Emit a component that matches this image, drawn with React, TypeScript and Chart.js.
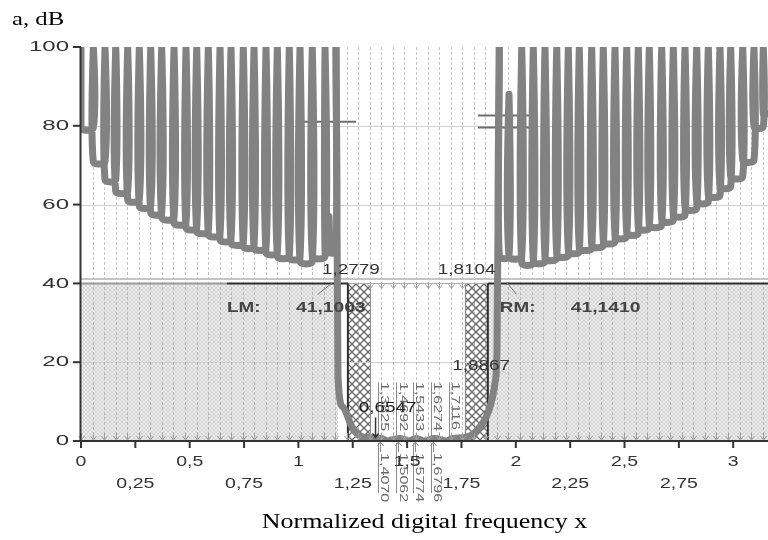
import React, { useEffect, useRef } from 'react';
import { Chart, registerables } from 'chart.js';
Chart.register(...registerables);

// ---------- data ----------
const X_MAX = 3.16;
const GRID_STEP = 0.05314;

const xTicks = [0, 0.25, 0.5, 0.75, 1, 1.25, 1.5, 1.75, 2, 2.25, 2.5, 2.75, 3];
const xTickLabels = ['0', '0,25', '0,5', '0,75', '1', '1,25', '1,5', '1,75', '2', '2,25', '2,5', '2,75', '3'];
const yTicks = [0, 20, 40, 60, 80, 100];

// attenuation poles (x) and lobe minima (dB) in the lower stopband
const leftPoles = [0.0566, 0.1104, 0.1596, 0.2148, 0.2682, 0.3206, 0.3712, 0.4278, 0.4830, 0.5322, 0.5856,
  0.6394, 0.6900, 0.7466, 0.7958, 0.8510, 0.9030, 0.9581, 1.0074, 1.0639, 1.1224, 1.1730];
const leftMinima = [79.5, 70.9, 66.3, 63.4, 61.2, 59.6, 57.9, 56.7, 55.4, 54.1, 53.2, 52.4, 51.1, 50.3, 49.4,
  49.0, 47.8, 46.9, 46.5, 45.6, 46.9, 48.0];
// upper stopband
const rightPoles = [1.9241, 2.0272, 2.0805, 2.1343, 2.1882, 2.2415, 2.2921, 2.3491, 2.4025, 2.4563, 2.5101,
  2.5635, 2.6141, 2.6711, 2.7245, 2.7783, 2.8321, 2.8855, 2.9393, 2.9885, 3.0437, 3.0957, 3.1384];
const rightMinima = [46.8, 45.2, 45.6, 46.4, 47.2, 48.1, 49.0, 49.7, 50.6, 51.9, 52.8, 54.1, 54.8, 56.1, 57.4,
  59.1, 60.8, 62.4, 64.6, 67.1, 71.3, 79.8];
const rightEdgeValue = 83;
// local spikes inside lobes
const spikeX = [1.1407, 1.9687];
const spikeY = [57, 88];
// transition + passband
const passX = [1.1822, 1.2052, 1.2466, 1.2925, 1.3825, 1.4070, 1.4692, 1.5062, 1.5433, 1.5774, 1.6274, 1.6796,
  1.7116, 1.7755, 1.8353, 1.8813, 1.9043, 1.9135];
const passY = [16, 8.6, 3.6, 1.0, 0.6547, 0, 0.6547, 0, 0.6547, 0, 0.6547, 0, 0.6547, 1.0, 3.6, 8.6, 14.7, 23];

// passband extremes (labels)
const passMaxX = [1.3825, 1.4692, 1.5433, 1.6274, 1.7116];
const passMaxLabels = ['1,3825', '1,4692', '1,5433', '1,6274', '1,7116'];
const passZeroLabels = ['1,4070', '1,5062', '1,5774', '1,6796'];

// tolerance scheme
const minAttenuation = 40;
const stopbandLeft = [0, 1.1822];
const stopbandRight = [1.8713, X_MAX];
const hatchLeft = [1.2276, 1.3287];
const hatchRight = [1.7655, 1.8713];
const passband = [1.3287, 1.7655];
const lmBox = [0.671, 1.2276];
const rmBox = [1.8713, X_MAX];
const lmValue = 41.1003;
const rmValue = 41.1410;
const stopEdges = [1.2779, 1.8104];
const markLineX0 = [1.0166, 1.8261, 1.8261];
const markLineX1 = [1.2649, 2.0745, 2.0883];
const markLineY = [81.0, 82.6, 79.6];

// ---------- build the curve ----------
const TOP = 100;
function push(pts: any[], x: number, y: number) {
  const l = pts[pts.length - 1];
  if (l && l.x === x && l.y === y) return;
  pts.push({ x, y });
}
function pushLobe(pts: any[], L: number, R: number, m: number) {
  push(pts, L, TOP);
  push(pts, L, m);
  spikeX.forEach((s, i) => {
    if (s > L && s < R) { push(pts, s, m); push(pts, s, spikeY[i]); push(pts, s + 0.0001, m); }
  });
  push(pts, R, m);
  push(pts, R, TOP);
}
function buildLeft() {
  const pts: any[] = [];
  pushLobe(pts, 0, leftPoles[0], leftMinima[0]);
  for (let i = 0; i < leftPoles.length - 1; i++) pushLobe(pts, leftPoles[i], leftPoles[i + 1], leftMinima[i + 1]);
  return pts;
}
function buildPass() {
  const pts: any[] = [{ x: leftPoles[leftPoles.length - 1], y: TOP }];
  passX.forEach((x, i) => pts.push({ x, y: passY[i] }));
  pts.push({ x: rightPoles[0], y: TOP });
  return pts;
}
function buildRight() {
  const pts: any[] = [];
  for (let i = 0; i < rightPoles.length - 1; i++) pushLobe(pts, rightPoles[i], rightPoles[i + 1], rightMinima[i]);
  const last = rightPoles[rightPoles.length - 1];
  push(pts, last, TOP); push(pts, last, rightEdgeValue); push(pts, X_MAX, rightEdgeValue);
  return pts;
}

// ---------- drawing helpers ----------
const SANS = "'Liberation Sans', Arial, sans-serif";
const SERIF = "'Liberation Serif', 'Times New Roman', serif";

function txt(ctx: CanvasRenderingContext2D, s: string, x: number, y: number, font: string, color: string,
  align: CanvasTextAlign, sx: number, baseline: CanvasTextBaseline = 'middle') {
  ctx.save();
  ctx.translate(x, y);
  ctx.scale(sx, 1);
  ctx.font = font;
  ctx.fillStyle = color;
  ctx.textAlign = align;
  ctx.textBaseline = baseline;
  ctx.fillText(s, 0, 0);
  ctx.restore();
}
function vtxt(ctx: CanvasRenderingContext2D, s: string, x: number, y: number, color: string) {
  ctx.save();
  ctx.translate(x, y);
  ctx.rotate(Math.PI / 2);
  ctx.scale(1.15, 0.75);
  ctx.font = `14px ${SANS}`;
  ctx.fillStyle = color;
  ctx.textAlign = 'left';
  ctx.textBaseline = 'middle';
  ctx.fillText(s, 0, 0);
  ctx.restore();
}
function line(ctx: CanvasRenderingContext2D, x0: number, y0: number, x1: number, y1: number) {
  ctx.beginPath();
  ctx.moveTo(x0, y0);
  ctx.lineTo(x1, y1);
  ctx.stroke();
}
function arrowDown(ctx: CanvasRenderingContext2D, x: number, tip: number, len: number, head: number) {
  ctx.beginPath();
  ctx.moveTo(x, tip - len);
  ctx.lineTo(x, tip);
  ctx.moveTo(x - head, tip - head - 1);
  ctx.lineTo(x, tip);
  ctx.lineTo(x + head, tip - head - 1);
  ctx.stroke();
}
function arrowUp(ctx: CanvasRenderingContext2D, x: number, tip: number, len: number, head: number) {
  ctx.beginPath();
  ctx.moveTo(x, tip + len);
  ctx.lineTo(x, tip);
  ctx.moveTo(x - head, tip + head + 1);
  ctx.lineTo(x, tip);
  ctx.lineTo(x + head, tip + head + 1);
  ctx.stroke();
}
function makeShade(ctx: CanvasRenderingContext2D) {
  const c = document.createElement('canvas');
  c.width = 4; c.height = 4;
  const g = c.getContext('2d')!;
  g.fillStyle = '#eeeeee';
  g.fillRect(0, 0, 4, 4);
  g.fillStyle = '#d2d2d2';
  [[0, 0], [1, 1], [2, 2], [3, 3], [3, 0], [2, 1], [1, 2], [0, 3]].forEach(([a, b]) => g.fillRect(a, b, 1, 1));
  return ctx.createPattern(c, 'repeat')!;
}
function makeHatch(ctx: CanvasRenderingContext2D) {
  const c = document.createElement('canvas');
  c.width = 8; c.height = 8;
  const g = c.getContext('2d')!;
  g.fillStyle = '#ffffff';
  g.fillRect(0, 0, 8, 8);
  g.strokeStyle = '#666666';
  g.lineWidth = 1.3;
  g.beginPath();
  g.moveTo(-1, -1); g.lineTo(9, 9);
  g.moveTo(9, -1); g.lineTo(-1, 9);
  g.stroke();
  return ctx.createPattern(c, 'repeat')!;
}

const decor = {
  id: 'decor',
  beforeDatasetsDraw(chart: any) {
    const { ctx, chartArea: ca, scales } = chart;
    const X = (v: number) => scales.x.getPixelForValue(v);
    const Y = (v: number) => scales.y.getPixelForValue(v);
    ctx.save();
    ctx.fillStyle = makeShade(ctx);
    [stopbandLeft, stopbandRight].forEach(([a, b]) =>
      ctx.fillRect(X(a), Y(minAttenuation), X(b) - X(a), Y(0) - Y(minAttenuation)));
    ctx.fillStyle = makeHatch(ctx);
    [hatchLeft, hatchRight].forEach(([a, b]) =>
      ctx.fillRect(X(a), Y(minAttenuation), X(b) - X(a), Y(0) - Y(minAttenuation)));
    ctx.strokeStyle = '#8a8a8a';
    ctx.lineWidth = 1;
    line(ctx, Math.round(X(passband[0])) + 0.5, Y(minAttenuation), Math.round(X(passband[0])) + 0.5, Y(0));
    line(ctx, Math.round(X(passband[1])) + 0.5, Y(minAttenuation), Math.round(X(passband[1])) + 0.5, Y(0));
    ctx.strokeStyle = '#cfcfcf';
    yTicks.forEach((v) => {
      if (v > 0 && v < 100) line(ctx, ca.left, Math.round(Y(v)) + 0.5, ca.right, Math.round(Y(v)) + 0.5);
    });
    ctx.setLineDash([3, 2]);
    ctx.strokeStyle = 'rgba(150,150,150,0.55)';
    for (let k = 1; k * GRID_STEP < X_MAX; k++) {
      const p = Math.round(X(k * GRID_STEP)) + 0.5;
      line(ctx, p, ca.top, p, ca.bottom);
    }
    ctx.setLineDash([]);
    ctx.strokeStyle = '#c4c4c4';
    ctx.lineWidth = 2;
    line(ctx, ca.left, Y(lmValue), X(passband[1]), Y(lmValue));
    line(ctx, X(passband[1]), Y(rmValue), ca.right, Y(rmValue));
    ctx.strokeStyle = '#9a9a9a';
    line(ctx, ca.left, Y(minAttenuation), X(lmBox[0]), Y(minAttenuation));
    ctx.strokeStyle = '#aaaaaa';
    ctx.lineWidth = 1;
    line(ctx, X(hatchLeft[0]), Math.round(Y(minAttenuation)) + 0.5, X(hatchRight[1]), Math.round(Y(minAttenuation)) + 0.5);
    ctx.strokeStyle = '#2e2e2e';
    ctx.lineWidth = 2;
    [lmBox, rmBox].forEach(([a, b]) => line(ctx, X(a), Y(minAttenuation), Math.min(X(b), ca.right), Y(minAttenuation)));
    line(ctx, X(lmBox[1]), Y(minAttenuation), X(lmBox[1]), Y(0));
    line(ctx, X(rmBox[0]), Y(minAttenuation), X(rmBox[0]), Y(0));
    ctx.strokeStyle = '#6e6e6e';
    ctx.lineWidth = 2;
    markLineY.forEach((v, i) => line(ctx, X(markLineX0[i]), Y(v), X(markLineX1[i]), Y(v)));
    ctx.restore();
  },
  afterDatasetsDraw(chart: any) {
    const { ctx, chartArea: ca, scales } = chart;
    const X = (v: number) => scales.x.getPixelForValue(v);
    const Y = (v: number) => scales.y.getPixelForValue(v);
    ctx.save();
    ctx.strokeStyle = '#a0a0a0';
    ctx.lineWidth = 1;
    for (let k = 0; k * GRID_STEP < X_MAX; k++) {
      const v = k * GRID_STEP;
      const p = Math.round(X(v)) + 0.5;
      arrowDown(ctx, p, Y(0) - 1, 7, 3);
      if (v >= passband[0] - 0.01 && v <= passband[1] + 0.01) arrowDown(ctx, p, Y(minAttenuation) + 5, 6, 3);
    }
    ctx.strokeStyle = '#8c8c8c';
    passMaxX.forEach((v, i) => {
      const p = Math.round(X(v)) - 3.5;
      line(ctx, p, Y(14.9), p, Y(0) - 2);
      vtxt(ctx, passMaxLabels[i], X(v) + 2, Y(15), '#6a6a6a');
      if (i < passZeroLabels.length) {
        line(ctx, p, Y(0) + 2, p, Y(0) + 52);
        arrowUp(ctx, p + 2, Y(0) + 1, 10, 3);
        vtxt(ctx, passZeroLabels[i], X(v) + 2, Y(0) + 12, '#6a6a6a');
      }
    });
    ctx.strokeStyle = '#333';
    ctx.lineWidth = 1.5;
    arrowDown(ctx, X(passMaxX[0]) - 6, Y(0.6547) - 1, 20, 3);
    ctx.strokeStyle = '#777';
    ctx.lineWidth = 1;
    line(ctx, X(stopEdges[0]) - 41, Y(minAttenuation) + 11, X(stopEdges[0]) - 26, Y(minAttenuation) - 1);
    line(ctx, X(stopEdges[1]) + 32, Y(minAttenuation) - 1, X(stopEdges[1]) + 42, Y(minAttenuation) + 11);

    const f = `14px ${SANS}`;
    const fb = `bold 14px ${SANS}`;
    txt(ctx, '1,2779', X(stopEdges[0]) - 8, Y(minAttenuation) - 13, f, '#333', 'center', 1.35);
    txt(ctx, '1,8104', X(stopEdges[1]) - 8, Y(minAttenuation) - 13, f, '#333', 'center', 1.35);
    txt(ctx, 'LM:', X(stopEdges[0]) - 115, Y(lmValue) + 29, fb, '#444', 'center', 1.35);
    txt(ctx, '41,1003', X(stopEdges[0]) - 28, Y(lmValue) + 29, fb, '#444', 'center', 1.38);
    txt(ctx, 'RM:', X(stopEdges[1]) + 43, Y(rmValue) + 29, fb, '#444', 'center', 1.35);
    txt(ctx, '41,1410', X(stopEdges[1]) + 131, Y(rmValue) + 29, fb, '#444', 'center', 1.38);
    txt(ctx, '1,8867', X(1.8867) - 10, Y(19), f, '#333', 'center', 1.35);
    txt(ctx, '0,6547', X(passMaxX[0]) + 6, Y(0.6547) - 30, f, '#222', 'center', 1.35);

    ctx.strokeStyle = '#333';
    ctx.lineWidth = 2;
    line(ctx, ca.left - 0.5, ca.top, ca.left - 0.5, ca.bottom + 1);
    line(ctx, ca.left - 1, ca.bottom, ca.right, ca.bottom);
    xTicks.forEach((v) => line(ctx, X(v), ca.bottom, X(v), ca.bottom + 7));
    yTicks.forEach((v) => line(ctx, ca.left - 8, Y(v), ca.left, Y(v)));

    const tf = `15px ${SANS}`;
    xTicks.forEach((v, i) => {
      const row = i % 2 === 0 ? ca.bottom + 21 : ca.bottom + 43;
      txt(ctx, xTickLabels[i], X(v), row, tf, '#333', 'center', 1.3);
    });
    yTicks.forEach((v) => txt(ctx, String(v), ca.left - 12, Y(v), tf, '#333', 'right', 1.6));

    txt(ctx, 'a, dB', 12, 25, `19px ${SERIF}`, '#000', 'left', 1.3, 'alphabetic');
    txt(ctx, 'Normalized digital frequency x', (ca.left + ca.right) / 2, 528, `20px ${SERIF}`, '#000', 'center', 1.3, 'alphabetic');
    ctx.restore();
  },
};

const curveStyle = {
  borderColor: 'rgb(130,130,130)',
  borderWidth: 7,
  borderJoinStyle: 'round',
  borderCapStyle: 'round',
  pointRadius: 0,
  fill: false,
};

export default function App() {
  const ref = useRef<HTMLCanvasElement>(null);
  useEffect(() => {
    document.body.style.margin = '0';
    const chart = new Chart(ref.current!, {
      type: 'line',
      data: {
        datasets: [
          { ...curveStyle, data: buildLeft(), tension: 0.3 },
          { ...curveStyle, data: buildPass(), cubicInterpolationMode: 'monotone' },
          { ...curveStyle, data: buildRight(), tension: 0.3 },
        ],
      },
      options: {
        animation: false,
        responsive: false,
        devicePixelRatio: 1,
        layout: { padding: { left: 81, top: 47, right: 0, bottom: 99 } },
        plugins: { legend: { display: false }, tooltip: { enabled: false } },
        scales: {
          x: { type: 'linear', display: false, min: 0, max: X_MAX },
          y: { type: 'linear', display: false, min: 0, max: 100 },
        },
      },
      plugins: [decor],
    } as any);
    return () => chart.destroy();
  }, []);
  return <canvas ref={ref} width={768} height={540} style={{ display: 'block', width: 768, height: 540 }} />;
}
